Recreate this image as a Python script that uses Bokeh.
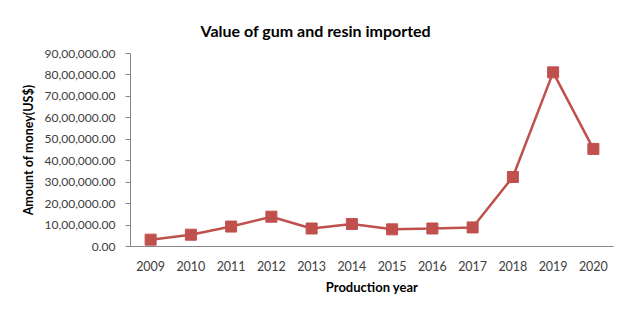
from bokeh.plotting import figure
from bokeh.models import FixedTicker, ColumnDataSource
from bokeh.embed import file_html
from bokeh.resources import INLINE

years = ["2009", "2010", "2011", "2012", "2013", "2014",
         "2015", "2016", "2017", "2018", "2019", "2020"]
values = [320000, 550000, 930000, 1390000, 840000, 1050000,
          800000, 840000, 890000, 3240000, 8120000, 4550000]
y_ticks = [0, 1000000, 2000000, 3000000, 4000000, 5000000,
           6000000, 7000000, 8000000, 9000000]
y_tick_labels = ["0.00", "10,00,000.00", "20,00,000.00", "30,00,000.00",
                 "40,00,000.00", "50,00,000.00", "60,00,000.00",
                 "70,00,000.00", "80,00,000.00", "90,00,000.00"]
title_text = "Value of gum and resin imported"
x_title = "Production year"
y_title = "Amount of money(US$)"

FONT = "Lato"
W, H = 620, 301

src = ColumnDataSource(dict(year=years, value=values))

p = figure(width=W, height=H, x_range=years, y_range=(0, 9000000),
           output_backend="svg", toolbar_location=None,
           min_border_left=130, min_border_right=7,
           min_border_top=53, min_border_bottom=55)
p.x_range.range_padding = 0
p.outline_line_color = None
p.xgrid.grid_line_color = None
p.ygrid.grid_line_color = None
p.background_fill_color = "white"
p.border_fill_color = "white"

p.title.text = title_text
p.title.align = "left"
p.title.offset = 70
p.title.standoff = 26
p.title.vertical_align = "middle"
p.title.text_font = FONT
p.title.text_font_size = "16px"
p.title.text_font_style = "bold"
p.title.text_color = "#000000"

p.line("year", "value", source=src, line_color="#C0504D", line_width=2.5)
p.scatter("year", "value", source=src, marker="square", size=11,
          fill_color="#C0504D", line_color="#C0504D")

p.yaxis.ticker = FixedTicker(ticks=y_ticks)
p.yaxis.major_label_overrides = {t: l for t, l in zip(y_ticks, y_tick_labels)}
p.yaxis.minor_tick_line_color = None
p.yaxis.major_tick_out = 5
p.yaxis.major_tick_in = 0
p.yaxis.axis_line_color = "#868686"
p.yaxis.major_tick_line_color = "#868686"
p.yaxis.major_label_text_font = FONT
p.yaxis.major_label_text_font_size = "12px"
p.yaxis.major_label_text_color = "#404040"
p.yaxis.major_label_standoff = 10
p.yaxis.axis_label = y_title
p.yaxis.axis_label_text_font = FONT
p.yaxis.axis_label_text_font_size = "12.5px"
p.yaxis.axis_label_text_font_style = "bold"
p.yaxis.axis_label_text_color = "#000000"
p.yaxis.axis_label_standoff = 6

p.xaxis.major_tick_out = 0
p.xaxis.major_tick_in = 0
p.xaxis.axis_line_color = "#868686"
p.xaxis.major_label_text_font = FONT
p.xaxis.major_label_text_font_size = "12.5px"
p.xaxis.major_label_text_color = "#404040"
p.xaxis.major_label_standoff = 14
p.xaxis.axis_label = x_title
p.xaxis.axis_label_text_font = FONT
p.xaxis.axis_label_text_font_size = "13px"
p.xaxis.axis_label_text_font_style = "bold"
p.xaxis.axis_label_text_color = "#000000"
p.xaxis.axis_label_standoff = 5

open("out.html", "w").write(file_html(p, INLINE))
